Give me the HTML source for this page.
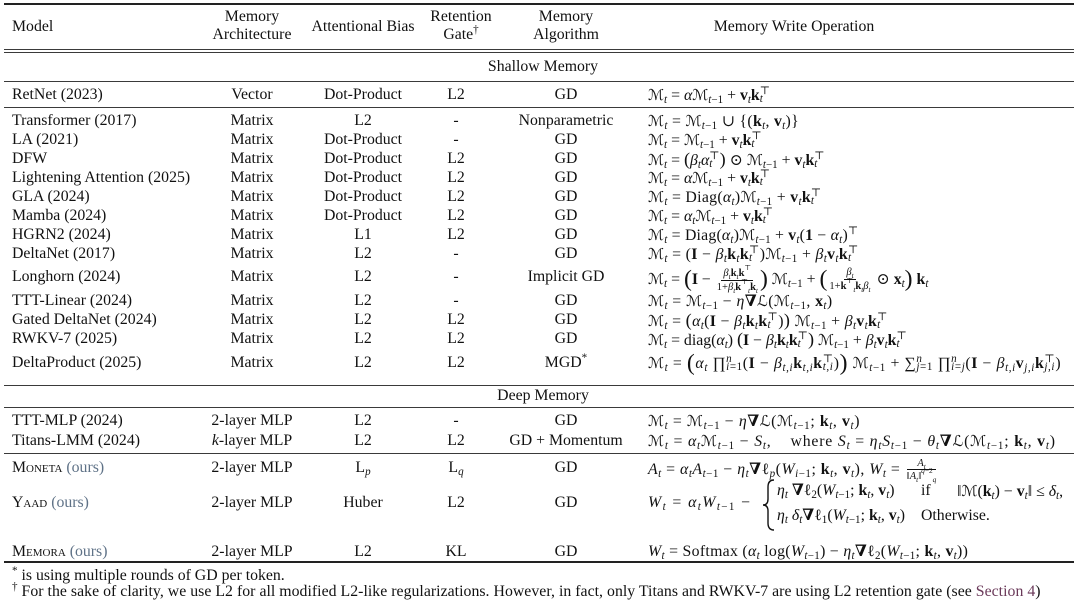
<!DOCTYPE html>
<html><head><meta charset="utf-8">
<style>
*{margin:0;padding:0;box-sizing:border-box}
html,body{width:1080px;height:616px;background:#fff;overflow:hidden}
body{position:relative;font-family:"Liberation Serif","DejaVu Serif",serif;font-size:15.8px;color:#111}
.r{position:absolute;left:0;width:1080px;height:18px;line-height:18px;white-space:nowrap}
.r>span{position:absolute;top:0;white-space:nowrap}
.c0{left:12px}
.c1{left:152px;width:200px;text-align:center}
.c2{left:263px;width:200px;text-align:center}
.c3{left:356px;width:200px;text-align:center}
.c4{left:466px;width:200px;text-align:center}
.c5{left:648px}
.cm{left:3px;width:1080px;text-align:center}
.hl{position:absolute;left:4px;width:1070px;height:1px;background:#3a3a3a}
.hk{position:absolute;left:4px;width:1070px;height:2px;background:#222}
sub{font-size:70%;vertical-align:-3px;line-height:0}
sup{font-size:70%;vertical-align:6px;line-height:0}
.ss{display:inline-flex;flex-direction:column;font-size:70%;line-height:8px;vertical-align:6px}
.M{font-family:"DejaVu Serif","Liberation Serif",serif;font-size:95%}
.fr{display:inline-flex;flex-direction:column;align-items:center;vertical-align:middle;font-size:10.5px;line-height:10px;margin:0 2px}
.fr>.nu{border-bottom:1px solid #111;padding:0 2px 1px}
.fr>.de{padding-top:1px}
.bp{font-size:150%;line-height:0;vertical-align:-2px}
.sc{font-variant:small-caps}
.ours{color:#5f7287}
.sec{color:#6b3a5a}
b{font-weight:bold}
.up{font-style:normal}
</style></head><body>

<!-- rules -->
<div class="hk" style="top:3px"></div>
<div class="hl" style="top:49px"></div>
<div class="hl" style="top:52px"></div>
<div class="hl" style="top:81px"></div>
<div class="hl" style="top:107px"></div>
<div class="hl" style="top:385px"></div>
<div class="hl" style="top:407px"></div>
<div class="hl" style="top:453px"></div>
<div class="hk" style="top:561px"></div>

<!-- header -->
<div class="r" style="top:17.7px"><span class="c0">Model</span><span class="c2">Attentional Bias</span><span style="left:694px;width:200px;text-align:center">Memory Write Operation</span></div>
<div class="r" style="top:7.7px"><span class="c1">Memory</span><span class="c3" style="left:361px">Retention</span><span class="c4">Memory</span></div>
<div class="r" style="top:25.7px"><span class="c1">Architecture</span><span class="c3" style="left:361px">Gate<sup>†</sup></span><span class="c4">Algorithm</span></div>

<div class="r" style="top:57.7px"><span class="cm">Shallow Memory</span></div>

<div class="r" style="top:85.7px"><span class="c0">RetNet (2023)</span><span class="c1">Vector</span><span class="c2">Dot-Product</span><span class="c3">L2</span><span class="c4">GD</span>
<span class="c5"><span class="M">ℳ</span><sub><i>t</i></sub> = <i>α</i><span class="M">ℳ</span><sub><i>t</i>−1</sub> + <b>v</b><sub><i>t</i></sub><b>k</b><span class="ss"><span>⊤</span><i>t</i></span></span></div>

<div class="r" style="top:112.2px"><span class="c0">Transformer (2017)</span><span class="c1">Matrix</span><span class="c2">L2</span><span class="c3">-</span><span class="c4">Nonparametric</span>
<span class="c5" style="letter-spacing:0.3px"><span class="M">ℳ</span><sub><i>t</i></sub> = <span class="M">ℳ</span><sub><i>t</i>−1</sub> ∪ {(<b>k</b><sub><i>t</i></sub>, <b>v</b><sub><i>t</i></sub>)}</span></div>

<div class="r" style="top:131.2px"><span class="c0">LA (2021)</span><span class="c1">Matrix</span><span class="c2">Dot-Product</span><span class="c3">-</span><span class="c4">GD</span>
<span class="c5"><span class="M">ℳ</span><sub><i>t</i></sub> = <span class="M">ℳ</span><sub><i>t</i>−1</sub> + <b>v</b><sub><i>t</i></sub><b>k</b><span class="ss"><span>⊤</span><i>t</i></span></span></div>

<div class="r" style="top:150.2px"><span class="c0">DFW</span><span class="c1">Matrix</span><span class="c2">Dot-Product</span><span class="c3">L2</span><span class="c4">GD</span>
<span class="c5"><span class="M">ℳ</span><sub><i>t</i></sub> = <span style="font-size:115%">(</span><i>β</i><sub><i>t</i></sub><i>α</i><span class="ss"><span>⊤</span><i>t</i></span><span style="font-size:115%">)</span> ⊙ <span class="M">ℳ</span><sub><i>t</i>−1</sub> + <b>v</b><sub><i>t</i></sub><b>k</b><span class="ss"><span>⊤</span><i>t</i></span></span></div>

<div class="r" style="top:169.2px"><span class="c0">Lightening Attention (2025)</span><span class="c1">Matrix</span><span class="c2">Dot-Product</span><span class="c3">L2</span><span class="c4">GD</span>
<span class="c5"><span class="M">ℳ</span><sub><i>t</i></sub> = <i>α</i><span class="M">ℳ</span><sub><i>t</i>−1</sub> + <b>v</b><sub><i>t</i></sub><b>k</b><span class="ss"><span>⊤</span><i>t</i></span></span></div>

<div class="r" style="top:188.2px"><span class="c0">GLA (2024)</span><span class="c1">Matrix</span><span class="c2">Dot-Product</span><span class="c3">L2</span><span class="c4">GD</span>
<span class="c5" style="letter-spacing:0.3px"><span class="M">ℳ</span><sub><i>t</i></sub> = Diag(<i>α</i><sub><i>t</i></sub>)<span class="M">ℳ</span><sub><i>t</i>−1</sub> + <b>v</b><sub><i>t</i></sub><b>k</b><span class="ss"><span>⊤</span><i>t</i></span></span></div>

<div class="r" style="top:207.2px"><span class="c0">Mamba (2024)</span><span class="c1">Matrix</span><span class="c2">Dot-Product</span><span class="c3">L2</span><span class="c4">GD</span>
<span class="c5"><span class="M">ℳ</span><sub><i>t</i></sub> = <i>α</i><sub><i>t</i></sub><span class="M">ℳ</span><sub><i>t</i>−1</sub> + <b>v</b><sub><i>t</i></sub><b>k</b><span class="ss"><span>⊤</span><i>t</i></span></span></div>

<div class="r" style="top:226.2px"><span class="c0">HGRN2 (2024)</span><span class="c1">Matrix</span><span class="c2">L1</span><span class="c3">L2</span><span class="c4">GD</span>
<span class="c5" style="letter-spacing:0.2px"><span class="M">ℳ</span><sub><i>t</i></sub> = Diag(<i>α</i><sub><i>t</i></sub>)<span class="M">ℳ</span><sub><i>t</i>−1</sub> + <b>v</b><sub><i>t</i></sub>(<b>1</b> − <i>α</i><sub><i>t</i></sub>)<sup>⊤</sup></span></div>

<div class="r" style="top:245.2px"><span class="c0">DeltaNet (2017)</span><span class="c1">Matrix</span><span class="c2">L2</span><span class="c3">-</span><span class="c4">GD</span>
<span class="c5" style="letter-spacing:0.35px"><span class="M">ℳ</span><sub><i>t</i></sub> = (<b>I</b> − <i>β</i><sub><i>t</i></sub><b>k</b><sub><i>t</i></sub><b>k</b><span class="ss"><span>⊤</span><i>t</i></span>)<span class="M">ℳ</span><sub><i>t</i>−1</sub> + <i>β</i><sub><i>t</i></sub><b>v</b><sub><i>t</i></sub><b>k</b><span class="ss"><span>⊤</span><i>t</i></span></span></div>

<div class="r" style="top:267.7px"><span class="c0">Longhorn (2024)</span><span class="c1">Matrix</span><span class="c2">L2</span><span class="c3">-</span><span class="c4">Implicit GD</span>
<span class="c5"><span class="M">ℳ</span><sub><i>t</i></sub> = <span class="bp">(</span><b>I</b> − <span class="fr"><span class="nu"><i>β</i><sub><i>t</i></sub><b>k</b><sub><i>t</i></sub><b>k</b><sup>⊤</sup></span><span class="de">1+<i>β</i><sub><i>t</i></sub><b>k</b><sup>⊤</sup><sub><i>t</i></sub><b>k</b><sub><i>t</i></sub></span></span><span class="bp">)</span> <span class="M">ℳ</span><sub><i>t</i>−1</sub> + <span class="bp">(</span><span class="fr"><span class="nu"><i>β</i><sub><i>t</i></sub></span><span class="de">1+<b>k</b><sup>⊤</sup><sub><i>t</i></sub><b>k</b><sub><i>t</i></sub><i>β</i><sub><i>t</i></sub></span></span> ⊙ <b>x</b><sub><i>t</i></sub><span class="bp">)</span> <b>k</b><sub><i>t</i></sub></span></div>

<div class="r" style="top:292.2px"><span class="c0">TTT-Linear (2024)</span><span class="c1">Matrix</span><span class="c2">L2</span><span class="c3">-</span><span class="c4">GD</span>
<span class="c5" style="letter-spacing:0.4px"><span class="M">ℳ</span><sub><i>t</i></sub> = <span class="M">ℳ</span><sub><i>t</i>−1</sub> − <i>η</i><b>∇</b><span class="M">ℒ</span>(<span class="M">ℳ</span><sub><i>t</i>−1</sub>, <b>x</b><sub><i>t</i></sub>)</span></div>

<div class="r" style="top:311.2px"><span class="c0">Gated DeltaNet (2024)</span><span class="c1">Matrix</span><span class="c2">L2</span><span class="c3">L2</span><span class="c4">GD</span>
<span class="c5" style="letter-spacing:0.35px"><span class="M">ℳ</span><sub><i>t</i></sub> = <span style="font-size:115%">(</span><i>α</i><sub><i>t</i></sub>(<b>I</b> − <i>β</i><sub><i>t</i></sub><b>k</b><sub><i>t</i></sub><b>k</b><span class="ss"><span>⊤</span><i>t</i></span>)<span style="font-size:115%">)</span> <span class="M">ℳ</span><sub><i>t</i>−1</sub> + <i>β</i><sub><i>t</i></sub><b>v</b><sub><i>t</i></sub><b>k</b><span class="ss"><span>⊤</span><i>t</i></span></span></div>

<div class="r" style="top:330.2px"><span class="c0">RWKV-7 (2025)</span><span class="c1">Matrix</span><span class="c2">L2</span><span class="c3">L2</span><span class="c4">GD</span>
<span class="c5"><span class="M">ℳ</span><sub><i>t</i></sub> = diag(<i>α</i><sub><i>t</i></sub>) <span style="font-size:115%">(</span><b>I</b> − <i>β</i><sub><i>t</i></sub><b>k</b><sub><i>t</i></sub><b>k</b><span class="ss"><span>⊤</span><i>t</i></span><span style="font-size:115%">)</span> <span class="M">ℳ</span><sub><i>t</i>−1</sub> + <i>β</i><sub><i>t</i></sub><b>v</b><sub><i>t</i></sub><b>k</b><span class="ss"><span>⊤</span><i>t</i></span></span></div>

<div class="r" style="top:353.7px"><span class="c0">DeltaProduct (2025)</span><span class="c1">Matrix</span><span class="c2">L2</span><span class="c3">L2</span><span class="c4">MGD<sup>*</sup></span>
<span class="c5" style="letter-spacing:0.6px"><span class="M">ℳ</span><sub><i>t</i></sub> = <span class="bp">(</span><i>α</i><sub><i>t</i></sub> ∏<span class="ss"><i>n</i><span><i>i</i>=1</span></span>(<b>I</b> − <i>β</i><sub><i>t,i</i></sub><b>k</b><sub><i>t,i</i></sub><b>k</b><span class="ss"><span>⊤</span><i>t,i</i></span>)<span class="bp">)</span> <span class="M">ℳ</span><sub><i>t</i>−1</sub> + ∑<span class="ss"><i>n</i><span><i>j</i>=1</span></span> ∏<span class="ss"><i>n</i><span><i>i</i>=<i>j</i></span></span>(<b>I</b> − <i>β</i><sub><i>t,i</i></sub><b>v</b><sub><i>j,i</i></sub><b>k</b><span class="ss"><span>⊤</span><i>j,i</i></span>)</span></div>

<div class="r" style="top:386.7px"><span class="cm">Deep Memory</span></div>

<div class="r" style="top:412.2px"><span class="c0">TTT-MLP (2024)</span><span class="c1">2-layer MLP</span><span class="c2">L2</span><span class="c3">-</span><span class="c4">GD</span>
<span class="c5" style="letter-spacing:0.6px"><span class="M">ℳ</span><sub><i>t</i></sub> = <span class="M">ℳ</span><sub><i>t</i>−1</sub> − <i>η</i><b>∇</b><span class="M">ℒ</span>(<span class="M">ℳ</span><sub><i>t</i>−1</sub>; <b>k</b><sub><i>t</i></sub>, <b>v</b><sub><i>t</i></sub>)</span></div>

<div class="r" style="top:431.7px"><span class="c0">Titans-LMM (2024)</span><span class="c1"><i>k</i>-layer MLP</span><span class="c2">L2</span><span class="c3">L2</span><span class="c4">GD + Momentum</span>
<span class="c5" style="letter-spacing:0.8px"><span class="M">ℳ</span><sub><i>t</i></sub> = <i>α</i><sub><i>t</i></sub><span class="M">ℳ</span><sub><i>t</i>−1</sub> − <i>S</i><sub><i>t</i></sub>,&nbsp;&nbsp;&nbsp; where <i>S</i><sub><i>t</i></sub> = <i>η</i><sub><i>t</i></sub><i>S</i><sub><i>t</i>−1</sub> − <i>θ</i><sub><i>t</i></sub><b>∇</b><span class="M">ℒ</span>(<span class="M">ℳ</span><sub><i>t</i>−1</sub>; <b>k</b><sub><i>t</i></sub>, <b>v</b><sub><i>t</i></sub>)</span></div>

<div class="r" style="top:458.7px"><span class="c0"><span class="sc">Moneta</span> <span class="ours">(ours)</span></span><span class="c1">2-layer MLP</span><span class="c2">L<sub><i>p</i></sub></span><span class="c3">L<sub><i>q</i></sub></span><span class="c4">GD</span>
<span class="c5" style="letter-spacing:0.5px"><i>A</i><sub><i>t</i></sub> = <i>α</i><sub><i>t</i></sub><i>A</i><sub><i>t</i>−1</sub> − <i>η</i><sub><i>t</i></sub><b>∇</b>ℓ<sub><i>p</i></sub>(<i>W</i><sub><i>i</i>−1</sub>; <b>k</b><sub><i>t</i></sub>, <b>v</b><sub><i>t</i></sub>), <i>W</i><sub><i>t</i></sub> = <span class="fr" style="letter-spacing:0"><span class="nu" style="border:none;padding-bottom:0"><i>A</i><sub><i>t</i></sub></span><span class="de" style="border-top:1px solid #111">‖<i>A</i><sub><i>t</i></sub>‖<sup><i>q</i>−2</sup><sub><i>q</i></sub></span></span></span></div>

<div class="r" style="top:493.7px"><span class="c0"><span class="sc">Yaad</span> <span class="ours">(ours)</span></span><span class="c1">2-layer MLP</span><span class="c2">Huber</span><span class="c3">L2</span><span class="c4">GD</span>
<span class="c5" style="letter-spacing:1.4px"><i>W</i><sub><i>t</i></sub> = <i>α</i><sub><i>t</i></sub><i>W</i><sub><i>t</i>−1</sub> −</span></div>
<svg style="position:absolute;left:762px;top:478px" width="16" height="54"><path d="M12,2 Q6,2 6,9 L6,21 Q6,27 1,27 Q6,27 6,33 L6,45 Q6,52 12,52" fill="none" stroke="#111" stroke-width="1.4"/></svg>
<div class="r" style="top:481.7px"><span style="left:777px"><i>η</i><sub><i>t</i></sub> <b>∇</b>ℓ<sub>2</sub>(<i>W</i><sub><i>t</i>−1</sub>; <b>k</b><sub><i>t</i></sub>, <b>v</b><sub><i>t</i></sub>)</span><span style="left:921px">if</span><span style="left:957px">‖<span class="M">ℳ</span>(<b>k</b><sub><i>t</i></sub>) − <b>v</b><sub><i>t</i></sub>‖ ≤ <i>δ</i><sub><i>t</i></sub>,</span></div>
<div class="r" style="top:506.7px"><span style="left:777px"><i>η</i><sub><i>t</i></sub> <i>δ</i><sub><i>t</i></sub><b>∇</b>ℓ<sub>1</sub>(<i>W</i><sub><i>t</i>−1</sub>; <b>k</b><sub><i>t</i></sub>, <b>v</b><sub><i>t</i></sub>)</span><span style="left:921px">Otherwise.</span></div>

<div class="r" style="top:542.7px"><span class="c0"><span class="sc">Memora</span> <span class="ours">(ours)</span></span><span class="c1">2-layer MLP</span><span class="c2">L2</span><span class="c3">KL</span><span class="c4">GD</span>
<span class="c5" style="letter-spacing:0.3px"><i>W</i><sub><i>t</i></sub> = Softmax (<i>α</i><sub><i>t</i></sub> log(<i>W</i><sub><i>t</i>−1</sub>) − <i>η</i><sub><i>t</i></sub><b>∇</b>ℓ<sub>2</sub>(<i>W</i><sub><i>t</i>−1</sub>; <b>k</b><sub><i>t</i></sub>, <b>v</b><sub><i>t</i></sub>))</span></div>

<!-- footnotes -->
<div class="r" style="top:566.7px"><span class="c0"><sup>*</sup> is using multiple rounds of GD per token.</span></div>
<div class="r" style="top:582.7px"><span class="c0" style="letter-spacing:0.03px"><sup>†</sup> For the sake of clarity, we use L2 for all modified L2-like regularizations. However, in fact, only Titans and RWKV-7 are using L2 retention gate (see <span class="sec">Section 4</span>)</span></div>

</body></html>
